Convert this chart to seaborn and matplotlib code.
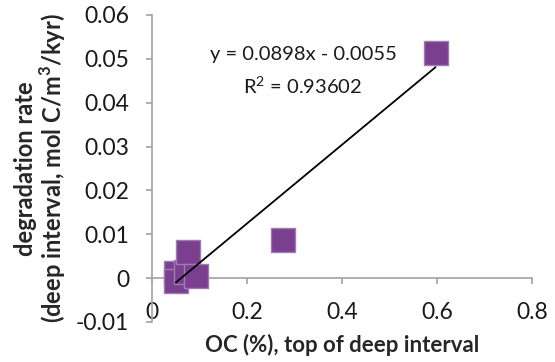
import numpy as np
import pandas as pd
import matplotlib
matplotlib.use("Agg")
import matplotlib.pyplot as plt
import seaborn as sns

# OC content at the top of the deep interval (%) and degradation rate
oc_pct = [0.050, 0.050, 0.072, 0.076, 0.093, 0.275, 0.597]
deg_rate = [0.0011, -0.0006, 0.0014, 0.0060, 0.0004, 0.0088, 0.0513]

# Linear trend reported on the chart
slope = 0.0898
intercept = -0.0055
r_squared = 0.93602

x_ticks = [0, 0.2, 0.4, 0.6, 0.8]
x_tick_labels = ["0", "0.2", "0.4", "0.6", "0.8"]
y_ticks = [-0.01, 0, 0.01, 0.02, 0.03, 0.04, 0.05, 0.06]
y_tick_labels = ["-0.01", "0", "0.01", "0.02", "0.03", "0.04", "0.05", "0.06"]

sns.set_theme(style="white")
plt.rcParams["font.family"] = ["Lato", "DejaVu Sans"]
plt.rcParams["mathtext.fontset"] = "custom"
plt.rcParams["mathtext.rm"] = "Lato"
plt.rcParams["mathtext.bf"] = "Lato:bold"

df = pd.DataFrame({"oc": oc_pct, "rate": deg_rate})

fig = plt.figure(figsize=(5.55, 3.62), dpi=100)
ax = fig.add_axes([152 / 555, 1 - 322 / 362, (532 - 152) / 555, (322 - 15) / 362])

sns.scatterplot(data=df, x="oc", y="rate", ax=ax, marker="s", s=290,
                color="#7a3f8e", edgecolor="#a27ab2", linewidth=1.0, zorder=3)

xs = np.array([min(oc_pct), max(oc_pct)])
ax.plot(xs, slope * xs + intercept, color="black", lw=1.3, zorder=4)

ax.set_xlim(0, 0.8)
ax.set_ylim(-0.01, 0.06)
ax.set_xticks(x_ticks)
ax.set_xticklabels(x_tick_labels)
ax.set_yticks(y_ticks)
ax.set_yticklabels(y_tick_labels)

for s in ["top", "right"]:
    ax.spines[s].set_visible(False)
ax.spines["bottom"].set_position(("data", 0))
for s in ["bottom", "left"]:
    ax.spines[s].set_color("#a6a6a6")
    ax.spines[s].set_zorder(1)

ax.tick_params(axis="x", direction="out", length=4.5, color="#a6a6a6",
               bottom=True, pad=13, labelsize=16.5, labelcolor="#1a1a1a")
ax.tick_params(axis="y", direction="out", length=4.5, color="#a6a6a6",
               left=True, pad=12, labelsize=16.5, labelcolor="#1a1a1a")

ax.set_xlabel("OC (%), top of deep interval", fontsize=16, fontweight="bold")
ax.xaxis.set_label_coords(0.5, -0.04)
ax.set_ylabel("degradation rate\n(deep interval, mol C/m$^\\mathbf{3}$/kyr)",
              fontsize=17, fontweight="bold", linespacing=1.05)
ax.yaxis.set_label_coords(-0.22, 0.5)

ax.text(0.318, 0.0510, "y = 0.0898x - 0.0055", fontsize=14.5, ha="center",
        va="center", color="#1a1a1a")
ax.text(0.318, 0.0438, "R$^\\mathrm{2}$ = 0.93602", fontsize=14.5, ha="center",
        va="center", color="#1a1a1a")

fig.savefig("out.png", dpi=100)
